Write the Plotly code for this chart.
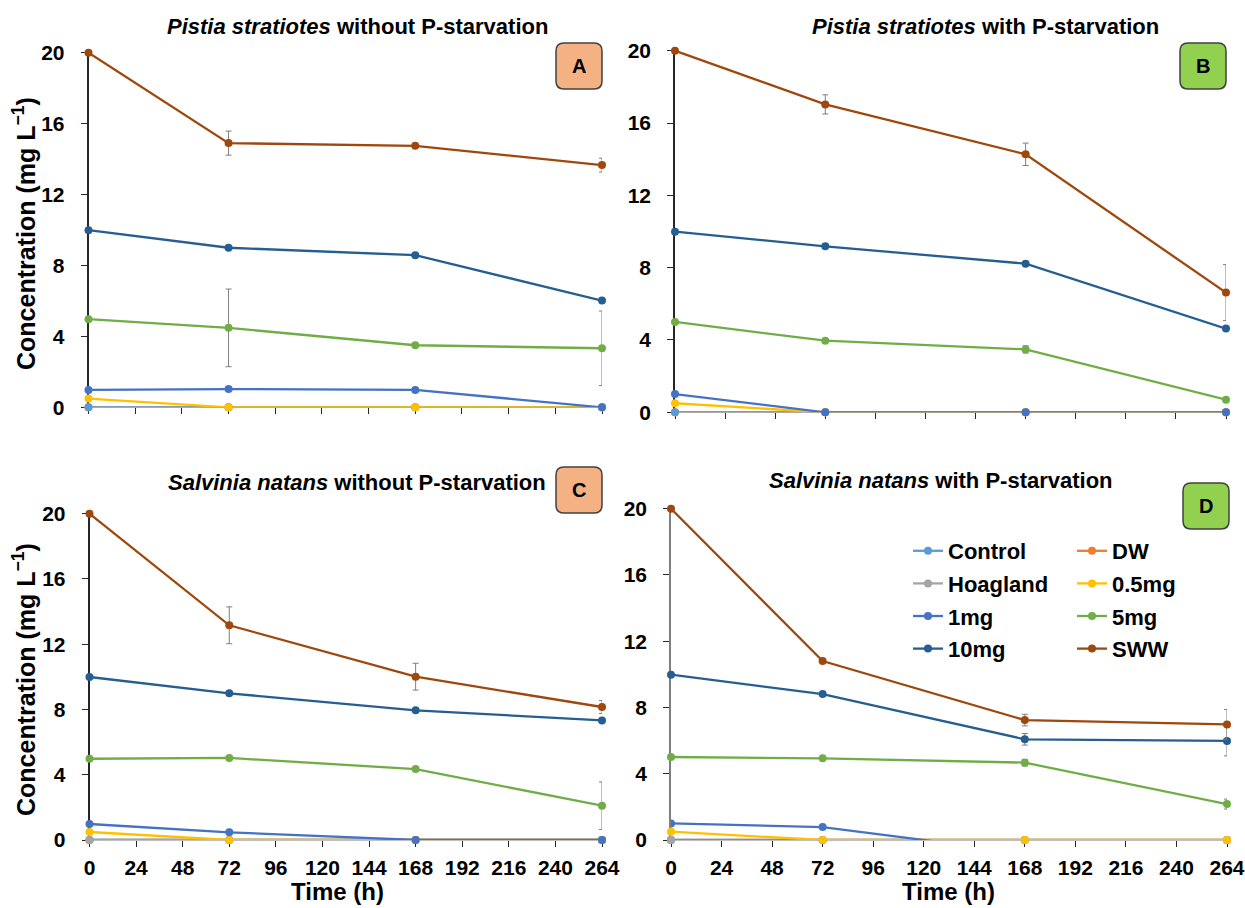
import plotly.graph_objects as go

W, H = 1245, 908
FONT = "Liberation Sans, Arial, sans-serif"

times = [0, 72, 168, 264]
x_ticks = [0, 24, 48, 72, 96, 120, 144, 168, 192, 216, 240, 264]
y_ticks = [0, 4, 8, 12, 16, 20]

names = ["Control", "DW", "Hoagland", "0.5mg", "1mg", "5mg", "10mg", "SWW"]
colors = {"Control": "#5B9BD5", "DW": "#ED7D31", "Hoagland": "#A5A5A5", "0.5mg": "#FFC000",
          "1mg": "#4472C4", "5mg": "#70AD47", "10mg": "#255E91", "SWW": "#9E480E"}

# ---- Panel A: Pistia stratiotes without P-starvation
A_control = [0, 0, 0, 0]
A_dw = [0, 0, 0, 0]
A_hoag = [None, None, None, None]
A_05 = [0.49, 0, 0, 0]
A_1 = [0.98, 1.03, 0.98, 0]
A_5 = [4.97, 4.48, 3.50, 3.33]
A_10 = [9.99, 9.00, 8.58, 6.02]
A_sww = [20, 14.90, 14.75, 13.66]
A_1_err = [0, 0.1, 0.12, 0]
A_5_err = [0, 2.19, 0, 2.10]
A_10_err = [0, 0, 0, 0]
A_sww_err = [0, 0.68, 0, 0.39]

# ---- Panel B: Pistia stratiotes with P-starvation
B_control = [0, 0, 0, 0]
B_dw = [0, 0, 0, 0]
B_hoag = [None, None, None, None]
B_05 = [0.50, 0, 0, 0]
B_1 = [1.01, 0, 0, 0]
B_5 = [5.00, 3.96, 3.48, 0.70]
B_10 = [9.99, 9.18, 8.22, 4.63]
B_sww = [20, 17.03, 14.27, 6.62]
B_1_err = [0, 0, 0, 0]
B_5_err = [0, 0, 0.2, 0]
B_10_err = [0, 0, 0, 0]
B_sww_err = [0, 0.53, 0.62, 1.55]

# ---- Panel C: Salvinia natans without P-starvation
C_control = [0, 0, 0, 0]
C_dw = [0, 0, 0, 0]
C_hoag = [0, 0, 0, 0]
C_05 = [0.49, 0, 0, 0]
C_1 = [0.98, 0.47, 0, 0]
C_5 = [4.98, 5.03, 4.35, 2.10]
C_10 = [9.99, 8.99, 7.95, 7.33]
C_sww = [20, 13.16, 10.01, 8.15]
C_1_err = [0, 0, 0, 0]
C_5_err = [0, 0, 0, 1.46]
C_10_err = [0, 0, 0, 0]
C_sww_err = [0, 1.13, 0.82, 0.40]

# ---- Panel D: Salvinia natans with P-starvation
D_control = [0, 0, 0, 0]
D_dw = [0, 0, 0, 0]
D_hoag = [0, None, None, None]
D_05 = [0.50, 0, 0, 0]
D_1 = [1.00, 0.78, -0.78, None]
D_5 = [5.01, 4.93, 4.67, 2.17]
D_10 = [9.98, 8.81, 6.08, 5.98]
D_sww = [20, 10.80, 7.24, 6.98]
D_1_err = [0, 0, 0, 0]
D_5_err = [0, 0, 0.2, 0.3]
D_10_err = [0, 0, 0.35, 0.9]
D_sww_err = [0, 0, 0.35, 0.9]

panels = {
    "A": dict(vals={"DW": A_dw, "Control": A_control, "Hoagland": A_hoag, "0.5mg": A_05, "1mg": A_1,
                    "5mg": A_5, "10mg": A_10, "SWW": A_sww},
              errs={"1mg": A_1_err, "5mg": A_5_err, "10mg": A_10_err, "SWW": A_sww_err},
              title="<i>Pistia stratiotes</i> without P-starvation", fill="#F4B183"),
    "B": dict(vals={"DW": B_dw, "Control": B_control, "Hoagland": B_hoag, "0.5mg": B_05, "1mg": B_1,
                    "5mg": B_5, "10mg": B_10, "SWW": B_sww},
              errs={"1mg": B_1_err, "5mg": B_5_err, "10mg": B_10_err, "SWW": B_sww_err},
              title="<i>Pistia stratiotes</i> with P-starvation", fill="#92D050"),
    "C": dict(vals={"DW": C_dw, "Control": C_control, "Hoagland": C_hoag, "0.5mg": C_05, "1mg": C_1,
                    "5mg": C_5, "10mg": C_10, "SWW": C_sww},
              errs={"1mg": C_1_err, "5mg": C_5_err, "10mg": C_10_err, "SWW": C_sww_err},
              title="<i>Salvinia natans</i> without P-starvation", fill="#F4B183"),
    "D": dict(vals={"DW": D_dw, "Control": D_control, "Hoagland": D_hoag, "0.5mg": D_05, "1mg": D_1,
                    "5mg": D_5, "10mg": D_10, "SWW": D_sww},
              errs={"1mg": D_1_err, "5mg": D_5_err, "10mg": D_10_err, "SWW": D_sww_err},
              title="<i>Salvinia natans</i> with P-starvation", fill="#92D050"),
}

# pixel layout of each plot area: x0, x1 (left/right), ytop (20), ybot (0)
geom = {
    "A": (88.5, 602, 52.7, 407.3),
    "B": (675, 1226, 50.7, 412.3),
    "C": (89.5, 602, 513.7, 840),
    "D": (671, 1227, 508.7, 840),
}
title_pos = {"A": (357, 27), "B": (986, 26), "C": (357, 482), "D": (941, 480)}
box_pos = {"A": (556, 43, 602, 89), "B": (1180, 43, 1226, 89),
           "C": (556, 467, 602, 513), "D": (1183, 483, 1229, 529)}
axis_idx = {"A": "", "B": "2", "C": "3", "D": "4"}

col1 = ["Control", "Hoagland", "1mg", "10mg"]
draw_order = ["DW", "Control", "Hoagland", "0.5mg", "1mg", "5mg", "10mg", "SWW"]

fig = go.Figure()

def px2paper_x(px):
    return px / W

def px2paper_y(py):
    return 1 - py / H

for key, p in panels.items():
    idx = axis_idx[key]
    for name in draw_order:
        y = p["vals"][name]
        err = p["errs"].get(name)
        has_neg = any(v is not None and v < 0 for v in y)
        tr = go.Scatter(
            x=times, y=y, name=name, mode="lines+markers",
            line=dict(color=colors[name], width=2.3),
            marker=dict(color=colors[name], size=8),
            xaxis="x" + idx, yaxis="y" + idx,
            cliponaxis=has_neg,
            legendgroup=name,
            showlegend=(key == "D"),
            legend="legend" if name in col1 else "legend2",
            legendrank=names.index(name),
            connectgaps=False,
        )
        if err is not None and any(e > 0 for e in err):
            tr.error_y = dict(type="data", array=err, visible=True, color="#7F7F7F",
                              thickness=1, width=3)
        fig.add_trace(tr)

layout = dict(
    width=W, height=H, autosize=False,
    margin=dict(l=0, r=0, t=0, b=0, pad=0, autoexpand=False),
    paper_bgcolor="white", plot_bgcolor="white",
    font=dict(family=FONT, color="black"),
)

annotations = []
shapes = []
for key in panels:
    idx = axis_idx[key]
    x0, x1, yt, yb = geom[key]
    bottom = key in ("C", "D")
    ycol = "#7F7F7F" if key == "D" else "#262626"
    layout["xaxis" + idx] = dict(
        domain=[px2paper_x(x0), px2paper_x(x1)], range=[0, 264], automargin=False,
        anchor="y" + idx, tickvals=x_ticks, ticks="outside", ticklen=6, tickwidth=1.3,
        tickcolor="#262626", showline=True, linecolor="#BFBFBF", linewidth=1,
        showgrid=False, zeroline=False, showticklabels=bottom, layer="below traces",
        tickfont=dict(size=21, family=FONT, weight="bold", color="black"),
        ticklabelstandoff=3,
    )
    layout["yaxis" + idx] = dict(
        domain=[px2paper_y(yb), px2paper_y(yt)], range=[0, 20], automargin=False,
        anchor="x" + idx, tickvals=y_ticks, ticks="outside", ticklen=6, tickwidth=1.3,
        tickcolor="#262626", showline=True, linecolor=ycol, linewidth=1.5,
        showgrid=False, zeroline=False, layer="below traces",
        tickfont=dict(size=21, family=FONT, weight="bold", color="black"),
        ticklabelstandoff=12,
    )
    tx, ty = title_pos[key]
    annotations.append(dict(text="<b>" + panels[key]["title"] + "</b>", x=px2paper_x(tx), y=px2paper_y(ty),
                            xref="paper", yref="paper", showarrow=False, xanchor="center", yanchor="middle",
                            font=dict(size=22, family=FONT, color="black")))
    bx0, by0, bx1, by1 = box_pos[key]
    r = 8
    X = px2paper_x
    Y = px2paper_y
    path = (f"M {X(bx0 + r)},{Y(by0)} L {X(bx1 - r)},{Y(by0)} Q {X(bx1)},{Y(by0)} {X(bx1)},{Y(by0 + r)} "
            f"L {X(bx1)},{Y(by1 - r)} Q {X(bx1)},{Y(by1)} {X(bx1 - r)},{Y(by1)} "
            f"L {X(bx0 + r)},{Y(by1)} Q {X(bx0)},{Y(by1)} {X(bx0)},{Y(by1 - r)} "
            f"L {X(bx0)},{Y(by0 + r)} Q {X(bx0)},{Y(by0)} {X(bx0 + r)},{Y(by0)} Z")
    shapes.append(dict(type="path", path=path, xref="paper", yref="paper",
                       fillcolor=panels[key]["fill"], line=dict(color="#404040", width=1.5), layer="above"))
    annotations.append(dict(text="<b>" + key + "</b>", x=X((bx0 + bx1) / 2), y=Y((by0 + by1) / 2),
                            xref="paper", yref="paper", showarrow=False, xanchor="center", yanchor="middle",
                            font=dict(size=20, family=FONT, color="black")))

# axis titles
for py in (234, 680):
    annotations.append(dict(text="<b>Concentration (mg L<sup>−1</sup>)</b>", x=px2paper_x(24), y=px2paper_y(py),
                            xref="paper", yref="paper", showarrow=False, textangle=-90,
                            xanchor="center", yanchor="middle", font=dict(size=25, family=FONT, color="black")))
for px in (337, 948):
    annotations.append(dict(text="<b>Time (h)</b>", x=px2paper_x(px), y=px2paper_y(891),
                            xref="paper", yref="paper", showarrow=False,
                            xanchor="center", yanchor="middle", font=dict(size=24, family=FONT, color="black")))

legend_common = dict(
    bgcolor="rgba(0,0,0,0)", borderwidth=0, yanchor="top", xanchor="left",
    traceorder="grouped", tracegroupgap=1, itemwidth=30,
    font=dict(size=22, family=FONT, weight="bold", color="black"),
)
layout["legend"] = dict(legend_common, x=px2paper_x(908), y=px2paper_y(530))
layout["legend2"] = dict(legend_common, x=px2paper_x(1072), y=px2paper_y(530))
layout["annotations"] = annotations
layout["shapes"] = shapes

fig.update_layout(**layout)
fig.write_html("out.html", config={"displayModeBar": False},
               post_script="document.body.style.margin='0';")
